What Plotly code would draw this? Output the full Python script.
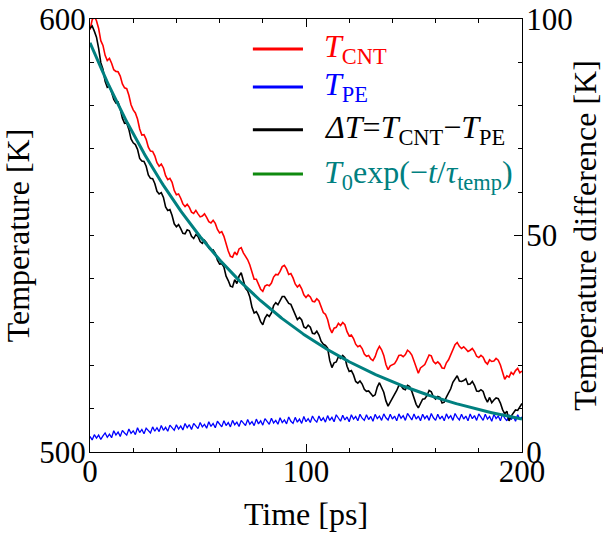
import plotly.graph_objects as go

# Simulation time grid [ps]
time_ps = list(range(0, 201))

# CNT temperature [K]
t_cnt = [597.5, 599.8, 600.6, 599.6, 597.8, 595.0, 593.9, 591.6, 590.4, 590.9,
         589.8, 588.3, 587.9, 587.8, 586.8, 585.0, 584.1, 583.9, 582.4, 580.2,
         579.0, 578.3, 576.9, 574.6, 573.2, 573.3, 572.2, 570.4, 569.5, 569.4,
         568.4, 566.8, 566.0, 566.5, 565.6, 563.8, 562.9, 563.2, 562.3, 560.4,
         559.4, 559.6, 558.6, 557.3, 556.7, 557.2, 556.5, 555.4, 555.1, 555.8,
         555.0, 554.3, 554.5, 555.0, 554.2, 553.2, 552.9, 553.5, 552.8, 551.4,
         550.6, 550.9, 549.8, 547.8, 546.4, 545.2, 545.0, 546.2, 545.5, 546.9,
         547.2, 546.0, 545.2, 544.4, 543.2, 541.2, 539.9, 539.9, 538.9, 537.6,
         537.1, 538.3, 538.6, 538.4, 539.0, 540.4, 541.0, 540.9, 541.7, 542.8,
         543.1, 542.3, 541.0, 541.2, 540.2, 538.8, 538.1, 538.6, 537.7, 536.3,
         535.7, 536.3, 535.8, 534.8, 534.7, 535.4, 534.9, 533.3, 532.2, 531.8,
         530.6, 528.6, 527.5, 528.6, 528.8, 529.7, 529.2, 529.9, 529.4, 527.8,
         526.8, 527.0, 526.2, 524.9, 524.3, 524.6, 523.9, 522.6, 522.1, 522.3,
         521.5, 521.1, 522.0, 523.5, 524.4, 523.6, 522.3, 520.2, 519.0, 519.9,
         520.2, 520.4, 521.2, 522.3, 522.4, 522.0, 522.5, 523.5, 523.1, 522.4,
         521.0, 519.3, 518.2, 519.4, 519.8, 520.2, 521.3, 522.4, 522.2, 520.9,
         520.4, 520.8, 520.3, 519.4, 519.3, 520.6, 521.3, 522.6, 523.5, 524.8,
         525.3, 524.4, 523.9, 524.3, 523.8, 523.2, 523.5, 523.9, 523.2, 522.1,
         521.8, 522.3, 521.9, 520.8, 520.3, 521.3, 520.9, 521.0, 521.6, 521.2,
         520.1, 518.2, 516.8, 517.6, 517.3, 518.4, 517.9, 518.8, 519.3, 518.3,
         518.7]

# PE temperature [K]
t_pe = [503.6, 502.8, 504.0, 503.2, 503.9, 502.9, 503.7, 504.4, 503.4, 504.1,
        503.3, 504.9, 503.9, 504.6, 503.6, 505.0, 504.4, 503.9, 505.3, 504.3,
        504.9, 504.0, 505.6, 504.5, 505.2, 504.2, 505.5, 504.9, 504.4, 505.8,
        504.8, 505.6, 504.7, 506.1, 505.0, 505.7, 504.8, 506.2, 505.5, 505.0,
        506.3, 505.3, 506.0, 505.1, 506.6, 505.6, 506.3, 505.2, 506.6, 505.9,
        505.4, 506.8, 505.8, 506.4, 505.5, 507.0, 505.9, 506.6, 505.6, 507.1,
        506.3, 505.8, 507.2, 506.1, 506.8, 505.8, 507.3, 506.3, 506.9, 505.9,
        507.3, 506.6, 506.1, 507.5, 506.4, 507.0, 506.1, 507.6, 506.5, 507.2,
        506.2, 507.7, 506.9, 506.4, 507.8, 506.7, 507.3, 506.4, 507.9, 506.8,
        507.4, 506.5, 508.1, 507.1, 506.6, 508.0, 506.9, 507.6, 506.6, 508.2,
        507.0, 507.7, 506.8, 508.3, 507.4, 506.9, 508.3, 507.2, 507.9, 506.9,
        508.4, 507.3, 508.0, 507.0, 508.6, 507.7, 507.1, 508.5, 507.4, 508.1,
        507.0, 508.6, 507.6, 508.2, 507.2, 508.7, 507.8, 507.3, 508.6, 507.5,
        508.2, 507.1, 508.7, 507.7, 508.3, 507.3, 508.8, 507.9, 507.4, 508.7,
        507.6, 508.3, 507.2, 508.8, 507.8, 508.4, 507.3, 508.9, 508.0, 507.4,
        508.8, 507.6, 508.3, 507.2, 508.7, 507.7, 508.4, 507.3, 508.9, 507.9,
        507.3, 508.7, 507.6, 508.3, 507.2, 508.8, 507.8, 508.4, 507.3, 508.9,
        508.0, 507.4, 508.7, 507.6, 508.3, 507.2, 508.8, 507.7, 508.4, 507.3,
        508.8, 507.9, 507.3, 508.7, 507.6, 508.2, 507.1, 508.7, 507.7, 508.3,
        507.2, 508.8, 507.8, 507.2, 508.6, 507.5, 508.2, 507.1, 508.6, 507.6,
        508.1]

# Temperature difference CNT - PE [K]
delta_t = [97.8, 98.4, 97.2, 95.8, 93.2, 89.9, 88.4, 85.6, 84.2, 84.5,
           83.1, 81.4, 80.6, 80.8, 79.2, 77.1, 75.9, 76.0, 74.5, 72.3,
           71.4, 71.0, 69.9, 67.8, 67.2, 67.1, 66.0, 64.0, 63.2, 63.1,
           62.0, 60.2, 59.6, 59.9, 58.8, 56.6, 55.8, 56.0, 54.6, 52.7,
           52.0, 52.5, 51.6, 50.5, 50.4, 51.3, 51.1, 49.8, 49.3, 50.2,
           49.8, 48.6, 48.2, 48.9, 48.3, 47.1, 46.6, 46.7, 45.9, 44.3,
           43.4, 43.5, 42.7, 40.6, 39.6, 38.3, 38.1, 39.8, 38.9, 40.6,
           41.4, 39.3, 37.8, 37.2, 35.8, 33.4, 32.1, 32.4, 31.5, 30.1,
           29.4, 30.9, 31.7, 31.3, 32.1, 33.8, 34.5, 34.0, 34.8, 35.9,
           35.9, 35.0, 34.3, 34.1, 33.0, 31.5, 30.6, 31.1, 30.5, 28.9,
           28.6, 29.3, 28.8, 27.4, 27.3, 27.9, 27.0, 25.6, 24.9, 24.6,
           24.0, 21.1, 19.5, 20.6, 20.8, 22.0, 21.6, 22.3, 21.8, 19.8,
           18.6, 18.8, 17.8, 16.3, 15.9, 16.4, 15.7, 14.5, 14.0, 14.1,
           13.5, 12.9, 13.2, 15.0, 16.0, 15.0, 13.8, 11.8, 10.6, 11.5,
           12.4, 13.0, 14.2, 15.4, 15.3, 14.6, 14.4, 15.4, 15.1, 14.0,
           12.2, 11.0, 10.2, 11.4, 12.2, 12.3, 13.0, 14.2, 13.9, 12.7,
           12.2, 12.8, 12.6, 11.3, 11.5, 12.7, 13.7, 14.6, 16.1, 16.8,
           17.6, 16.4, 16.3, 16.5, 16.9, 15.6, 15.7, 16.3, 15.4, 14.1,
           14.0, 14.4, 14.0, 12.5, 11.5, 12.6, 11.4, 12.0, 12.5, 12.3,
           11.3, 9.8, 8.8, 9.4, 7.2, 8.3, 8.9, 9.7, 9.6, 10.4,
           11.2]

# Exponential fit of the temperature difference
fit_t0 = 94.5     # K
fit_tau = 79.4    # ps
fit_time = [i * 0.5 for i in range(401)]

SERIF = "Liberation Serif, Times New Roman, serif"
TEAL = "#008080"

fig = go.Figure()
fig.add_trace(go.Scatter(x=time_ps, y=t_cnt, mode="lines",
                         line=dict(color="#ff0000", width=1.6), yaxis="y"))
fig.add_trace(go.Scatter(x=time_ps, y=t_pe, mode="lines",
                         line=dict(color="#0000ff", width=1.3), yaxis="y"))
fig.add_trace(go.Scatter(x=time_ps, y=delta_t, mode="lines",
                         line=dict(color="#000000", width=1.6), yaxis="y2"))
fig.add_trace(go.Scatter(
    x=fit_time,
    y=[fit_t0 * pow(2.718281828459045, -t / fit_tau) for t in fit_time],
    mode="lines", line=dict(color=TEAL, width=3), yaxis="y2"))

tickfont = dict(family=SERIF, size=31, color="black")
titlefont = dict(family=SERIF, size=32, color="black")
minor_common = dict(ticks="inside", ticklen=4, tickcolor="black", tickwidth=1)

fig.update_layout(
    width=603, height=537,
    margin=dict(l=90, r=81, t=19, b=85),
    paper_bgcolor="white", plot_bgcolor="white",
    showlegend=False,
    xaxis=dict(range=[0, 200], tickvals=[0, 100, 200], ticks="inside",
               ticklen=8, tickcolor="black", showline=True, linecolor="black",
               linewidth=1.3, mirror="ticks", showgrid=False, zeroline=False,
               tickfont=tickfont, automargin=False, ticklabelstandoff=-8,
               minor=dict(dtick=20, **minor_common),
               title=dict(text="Time [ps]", font=titlefont, standoff=14)),
    yaxis=dict(range=[500, 600], tickvals=[500, 600], ticks="inside",
               ticklen=8, tickcolor="black", showline=True, linecolor="black",
               linewidth=1.3, showgrid=False, zeroline=False, tickfont=tickfont,
               automargin=False, ticklabelstandoff=-3,
               minor=dict(dtick=10, **minor_common),
               title=dict(text="Temperature [K]", font=titlefont, standoff=2)),
    yaxis2=dict(range=[0, 100], tickvals=[0, 50, 100], ticks="inside",
                ticklen=8, tickcolor="black", showline=True, linecolor="black",
                linewidth=1.3, showgrid=False, zeroline=False, tickfont=tickfont,
                overlaying="y", side="right", automargin=False,
                ticklabelstandoff=-3,
                minor=dict(dtick=10, **minor_common),
                title=dict(text="Temperature difference [K]", font=titlefont,
                           standoff=6)),
)

# Legend drawn inside the plot area
legend_rows = [
    ("<i>T</i><sub>CNT</sub>", "#ff0000", "#ff0000", 0.931),
    ("<i>T</i><sub>PE</sub>", "#0000ff", "#0000ff", 0.843),
    ("<i>ΔT</i>=<i>T</i><sub>CNT</sub>−<i>T</i><sub>PE</sub>", "#000000",
     "#000000", 0.744),
    ("<i>T</i><sub>0</sub>exp(−<i>t</i>/<i>τ</i><sub>temp</sub>)", "#0f8a0f",
     TEAL, 0.642),
]
for label, line_color, text_color, ypos in legend_rows:
    fig.add_shape(type="line", xref="paper", yref="paper",
                  x0=0.377, x1=0.493, y0=ypos, y1=ypos,
                  line=dict(color=line_color, width=3))
    fig.add_annotation(xref="paper", yref="paper", x=0.537, y=ypos,
                       xanchor="left", yanchor="middle", showarrow=False,
                       text=label, font=dict(family=SERIF, size=32,
                                             color=text_color))

fig.write_html("out.html")
